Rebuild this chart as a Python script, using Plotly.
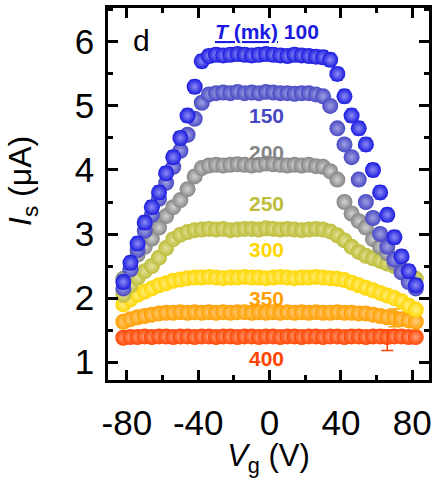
import plotly.graph_objects as go

# Gate voltage sampling (V)
V = [-82, -78, -74, -70, -66, -62, -58, -54, -50, -46, -42, -38, -34, -30,
     -26, -22, -18, -14, -10, -6, -2, 2, 6, 10, 14, 18, 22, 26, 30, 34, 38,
     42, 46, 50, 54, 58, 62, 66, 70, 74, 78, 82]

# Supercurrent Is (uA) per temperature (mK)
I100 = [2.25, 2.55, 2.85, 3.18, 3.42, 3.65, 3.95, 4.2, 4.5, 4.85, 5.3, 5.7, 5.78, 5.8,
        5.79, 5.8, 5.81, 5.8, 5.79, 5.8, 5.81, 5.8, 5.79, 5.78, 5.8, 5.79, 5.78, 5.77,
        5.76, 5.72, 5.5, 5.15, 4.85, 4.65, 4.4, 4.0, 3.65, 3.3, 2.95, 2.65, 2.42, 2.2]
I150 = [2.15, 2.45, 2.75, 3.05, 3.3, 3.55, 3.8, 4.05, 4.3, 4.55, 4.8, 5.05, 5.18, 5.2,
        5.21, 5.2, 5.22, 5.2, 5.21, 5.2, 5.22, 5.21, 5.2, 5.2, 5.19, 5.2, 5.2, 5.18,
        5.15, 5.0, 4.65, 4.4, 4.2, 3.85, 3.5, 3.25, 3.0, 2.8, 2.6, 2.4, 2.25, 2.15]
I200 = [2.3, 2.45, 2.68, 2.8, 2.93, 3.1, 3.28, 3.42, 3.53, 3.7, 3.9, 4.03, 4.07, 4.08,
        4.07, 4.08, 4.09, 4.08, 4.07, 4.08, 4.1, 4.09, 4.08, 4.07, 4.08, 4.07, 4.08, 4.06,
        4.05, 3.98, 3.85, 3.5, 3.32, 3.2, 3.1, 2.92, 2.8, 2.7, 2.55, 2.42, 2.3, 2.18]
I250 = [2.05, 2.2, 2.32, 2.42, 2.5, 2.63, 2.78, 2.92, 2.99, 3.03, 3.06, 3.07, 3.08, 3.07,
        3.08, 3.06, 3.07, 3.08, 3.08, 3.07, 3.09, 3.08, 3.07, 3.08, 3.07, 3.06, 3.07, 3.08,
        3.07, 3.04, 2.98, 2.9, 2.8, 2.72, 2.66, 2.62, 2.58, 2.54, 2.5, 2.45, 2.38, 2.3]
I300 = [1.9, 1.98, 2.05, 2.1, 2.15, 2.2, 2.23, 2.27, 2.29, 2.31, 2.32, 2.32, 2.33, 2.32,
        2.31, 2.32, 2.32, 2.33, 2.32, 2.32, 2.31, 2.32, 2.33, 2.32, 2.31, 2.32, 2.32, 2.33,
        2.32, 2.31, 2.3, 2.28, 2.24, 2.2, 2.16, 2.12, 2.08, 2.04, 2.0, 1.95, 1.88, 1.82]
I350 = [1.63, 1.67, 1.7, 1.72, 1.74, 1.76, 1.77, 1.77, 1.78, 1.77, 1.78, 1.77, 1.78, 1.77,
        1.78, 1.77, 1.78, 1.78, 1.77, 1.78, 1.77, 1.78, 1.77, 1.78, 1.77, 1.78, 1.77, 1.78,
        1.77, 1.77, 1.78, 1.77, 1.77, 1.76, 1.76, 1.74, 1.72, 1.7, 1.69, 1.67, 1.65, 1.63]
I400 = [1.38, 1.39, 1.39, 1.4, 1.39, 1.4, 1.4, 1.39, 1.4, 1.4, 1.39, 1.4, 1.4, 1.39,
        1.4, 1.4, 1.39, 1.4, 1.4, 1.39, 1.4, 1.4, 1.39, 1.4, 1.4, 1.39, 1.4, 1.4,
        1.39, 1.4, 1.4, 1.39, 1.4, 1.4, 1.39, 1.4, 1.4, 1.39, 1.4, 1.4, 1.39, 1.39]

TEMPS = ["100", "150", "200", "250", "300", "350", "400"]
SERIES = [I100, I150, I200, I250, I300, I350, I400]
COLORS = ["#1a1ae0", "#4848c4", "#868686", "#bdbd3a", "#ffd600", "#ff9f00", "#ff4500"]
LIGHT = ["#8c8cf4", "#a0a0e2", "#d2d2d2", "#e2e29a", "#fff08a", "#ffcf80", "#ff9e7a"]

# tick labels
X_TICKS = [-80, -40, 0, 40, 80]
X_TICK_TEXT = ["-80", "-40", "0", "40", "80"]
Y_TICKS = [1, 2, 3, 4, 5, 6]
Y_TICK_TEXT = ["1", "2", "3", "4", "5", "6"]

# error bars (uA)
ERR_BLUE = {"100": 0.10, "150": 0.08}
ERR_SINGLE = {"350": (70, 0.14, 0.14), "400": (66, 0.11, 0.21)}

LABEL_TEXT = ["<u><i>T</i> (mk)</u> 100", "150", "200", "250", "300", "350", "400"]
X_TITLE = "<i>V</i><sub>g</sub> (V)"
Y_TITLE = "<i>I</i><sub>s</sub> (μA)"

for s in SERIES:
    assert len(s) == len(V)

fig = go.Figure()

order = list(range(len(TEMPS)))[::-1]
for k in order:
    t = TEMPS[k]
    err = None
    if t in ERR_BLUE:
        err = dict(type="constant", value=ERR_BLUE[t], color=COLORS[k],
                   thickness=1.2, width=5)
    fig.add_trace(go.Scatter(
        x=V, y=SERIES[k], mode="markers", name=t + " mK",
        marker=dict(size=16, color=COLORS[k], line=dict(width=0),
                    gradient=dict(type="radial", color=LIGHT[k])),
        error_y=err,
    ))
    if t in ERR_SINGLE:
        v0, up, dn = ERR_SINGLE[t]
        i = V.index(v0)
        fig.add_trace(go.Scatter(
            x=[V[i]], y=[SERIES[k][i]], mode="markers", showlegend=False,
            marker=dict(size=1, opacity=0),
            error_y=dict(type="data", array=[up], arrayminus=[dn], symmetric=False,
                         color=COLORS[k], thickness=1.5, width=6),
        ))

label_pos = [(-1.5, 6.16), (-2, 4.85), (-2, 4.27), (-2, 3.48), (-2, 2.76), (-2, 1.99), (-2, 1.05)]
for k, (xx, yy) in enumerate(label_pos):
    fig.add_annotation(x=xx, y=yy, xref="x", yref="y", text="<b>" + LABEL_TEXT[k] + "</b>",
                       showarrow=False, font=dict(size=21, color=COLORS[k]))

fig.add_annotation(x=-72, y=6.03, xref="x", yref="y", text="d", showarrow=False,
                   font=dict(size=30, color="black"))

# y-axis title placed as rotated text left of the tick labels
fig.add_annotation(x=-0.265, y=0.535, xref="paper", yref="paper", text=Y_TITLE,
                   textangle=-90, showarrow=False, xanchor="center", yanchor="middle",
                   font=dict(size=32, color="black"))

axis_common = dict(showline=True, linewidth=2.5, linecolor="black", mirror="ticks",
                   ticks="inside", ticklen=10, tickwidth=2.5, tickcolor="black",
                   showgrid=False, zeroline=False,
                   tickfont=dict(size=35, color="black"))

fig.update_xaxes(range=[-90.6, 89.4], tickmode="array", tickvals=X_TICKS, ticktext=X_TICK_TEXT,
                 minor=dict(dtick=20, tick0=0, ticks="inside", ticklen=5, tickwidth=2.5,
                            tickcolor="black"),
                 ticklabelstandoff=10,
                 title=dict(text=X_TITLE, font=dict(size=31), standoff=6),
                 **axis_common)
fig.update_yaxes(range=[0.72, 6.53], tickmode="array", tickvals=Y_TICKS, ticktext=Y_TICK_TEXT,
                 minor=dict(dtick=0.5, tick0=0, ticks="inside", ticklen=5, tickwidth=2.5,
                            tickcolor="black"),
                 ticklabelstandoff=4,
                 **axis_common)

fig.update_layout(width=436, height=478, margin=dict(l=108, r=4, t=8, b=98),
                  plot_bgcolor="white", paper_bgcolor="white", showlegend=False,
                  font=dict(family="Liberation Sans, Arial, sans-serif", color="black"))

fig.write_html("out.html", config={"displayModeBar": False},
               post_script="document.body.style.margin='0px';document.body.style.padding='0px';")
